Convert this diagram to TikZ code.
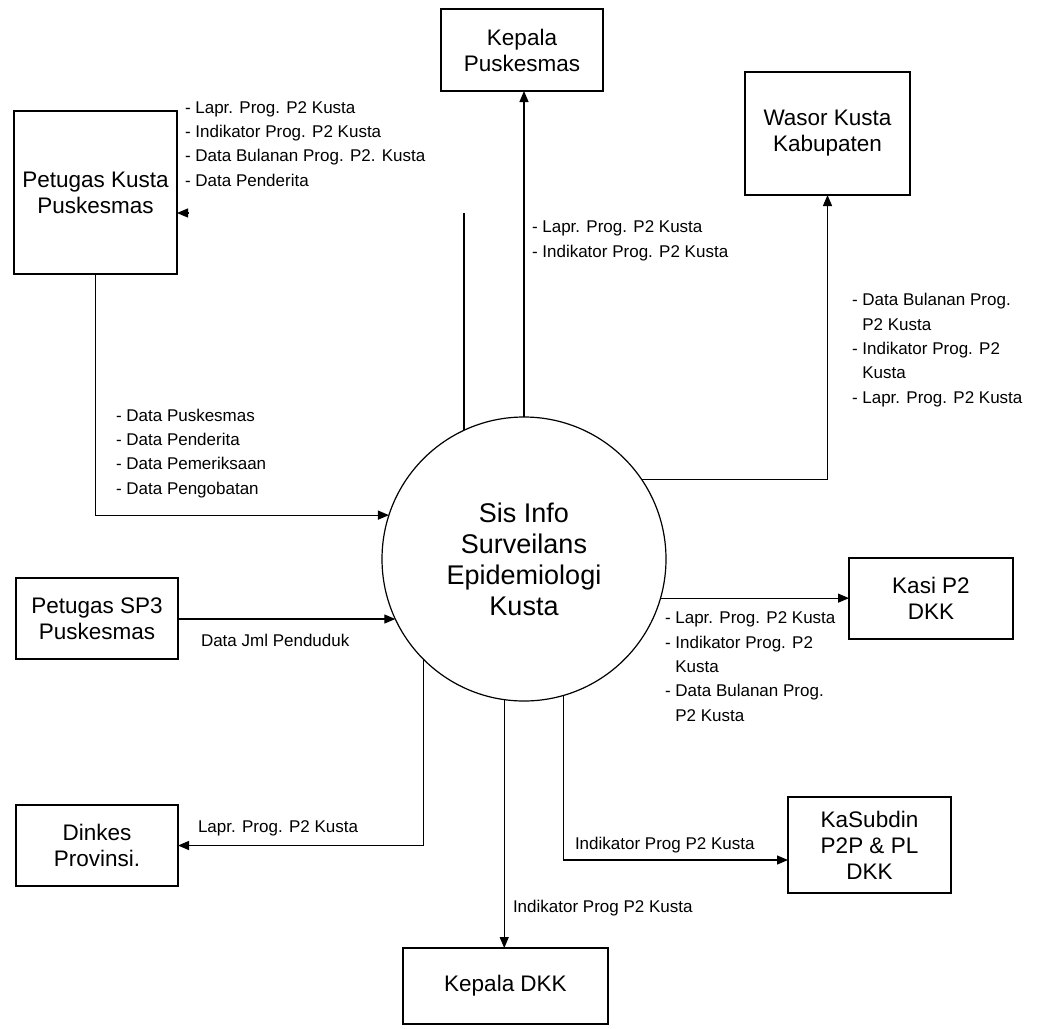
\documentclass[tikz,border=0pt]{standalone}
\usepackage{fontspec}
\setmainfont{Liberation Sans}
\usetikzlibrary{arrows.meta}
\begin{document}
\begin{tikzpicture}[x=1pt,y=-1pt,
  every node/.style={inner sep=0pt, outer sep=0pt},
  entity/.style={draw, line width=1.2pt, align=center, font=\fontsize{22.5}{26}\selectfont},
  process/.style={draw, circle, line width=1.2pt, align=center, font=\fontsize{27}{31}\selectfont},
  flow/.style={line width=1.2pt, -{Triangle[length=11pt,width=9pt]}},
  plain/.style={line width=1.2pt},
  lbl/.style={align=left, anchor=base west, font=\fontsize{17}{24.3}\selectfont},
]
\useasboundingbox (0,0) rectangle (1038,1028);

% central process
\node[process, minimum size=284pt] (sis) at (524,559) {Sis Info\\Surveilans\\Epidemiologi\\Kusta};

% external entities
\node[entity, minimum width=163pt, minimum height=163pt] (pk)   at (95.5,192.5) {Petugas Kusta\\Puskesmas};
\node[entity, minimum width=162pt, minimum height=82pt]  (kp)   at (522,50)     {Kepala\\Puskesmas};
\node[entity, minimum width=165pt, minimum height=123pt] (wk)   at (827.5,133.5) {Wasor Kusta\\Kabupaten};
\node[entity, minimum width=162pt, minimum height=81pt]  (sp3)  at (97,618.5)   {Petugas SP3\\Puskesmas};
\node[entity, minimum width=164pt, minimum height=81pt]  (kasi) at (931,598.5)  {Kasi P2\\DKK};
\node[entity, minimum width=162pt, minimum height=81pt]  (dp)   at (97,845.5)   {Dinkes\\Provinsi.};
\node[entity, minimum width=163pt, minimum height=96pt]  (ksd)  at (869.5,845)  {KaSubdin\\P2P \& PL\\DKK};
\node[entity, minimum width=205pt, minimum height=76pt]  (kdkk) at (505.5,986)  {Kepala DKK};

% connector end points
\coordinate (pkret) at (462,213);
\coordinate (pktip) at (189,213);
\coordinate (ksdin) at (788,860);

% data flows
\draw[flow]  (sis.north) -- (sis.north |- kp.south);
\draw[plain] (sis.115.9) -- (sis.115.9 |- pkret);
\draw[flow]  (pktip) -- (pktip -| pk.east);
\draw[flow]  (sis.34.8) -| (wk.south);
\draw[flow]  (pk.south) |- (sis.162.8);
\draw[flow]  (sp3.east |- sis.205.4) -- (sis.205.4);
\draw[flow]  (sis.-16.36) -- (sis.-16.36 -| kasi.west);
\draw[flow]  (sis.225.3) |- (dp.east);
\draw[flow]  (sis.286.8) |- (ksdin);
\draw[flow]  (sis.262.3) -- (sis.262.3 |- kdkk.north);

% flow labels (each placed at the baseline of its last line)
\node[lbl] (l-pk) at (185,186) {- Lapr. Prog. P2 Kusta\\- Indikator Prog. P2 Kusta\\- Data Bulanan Prog. P2. Kusta\\- Data Penderita};
\node[lbl] (l-kp) at (532,257) {- Lapr. Prog. P2 Kusta\\- Indikator Prog. P2 Kusta};
\node[lbl] (l-wk) at (852,403) {- Data Bulanan Prog.\\\phantom{- }P2 Kusta\\- Indikator Prog. P2\\\phantom{- }Kusta\\- Lapr. Prog. P2 Kusta};
\node[lbl] (l-in) at (116,494) {- Data Puskesmas\\- Data Penderita\\- Data Pemeriksaan\\- Data Pengobatan};
\node[lbl] (l-sp3) at (201,646) {Data Jml Penduduk};
\node[lbl] (l-kasi) at (665,721) {- Lapr. Prog. P2 Kusta\\- Indikator Prog. P2\\\phantom{- }Kusta\\- Data Bulanan Prog.\\\phantom{- }P2 Kusta};
\node[lbl] (l-dp) at (198,832) {Lapr. Prog. P2 Kusta};
\node[lbl] (l-ksd) at (575,849) {Indikator Prog P2 Kusta};
\node[lbl] (l-kdkk) at (513,912) {Indikator Prog P2 Kusta};
\end{tikzpicture}
\end{document}
